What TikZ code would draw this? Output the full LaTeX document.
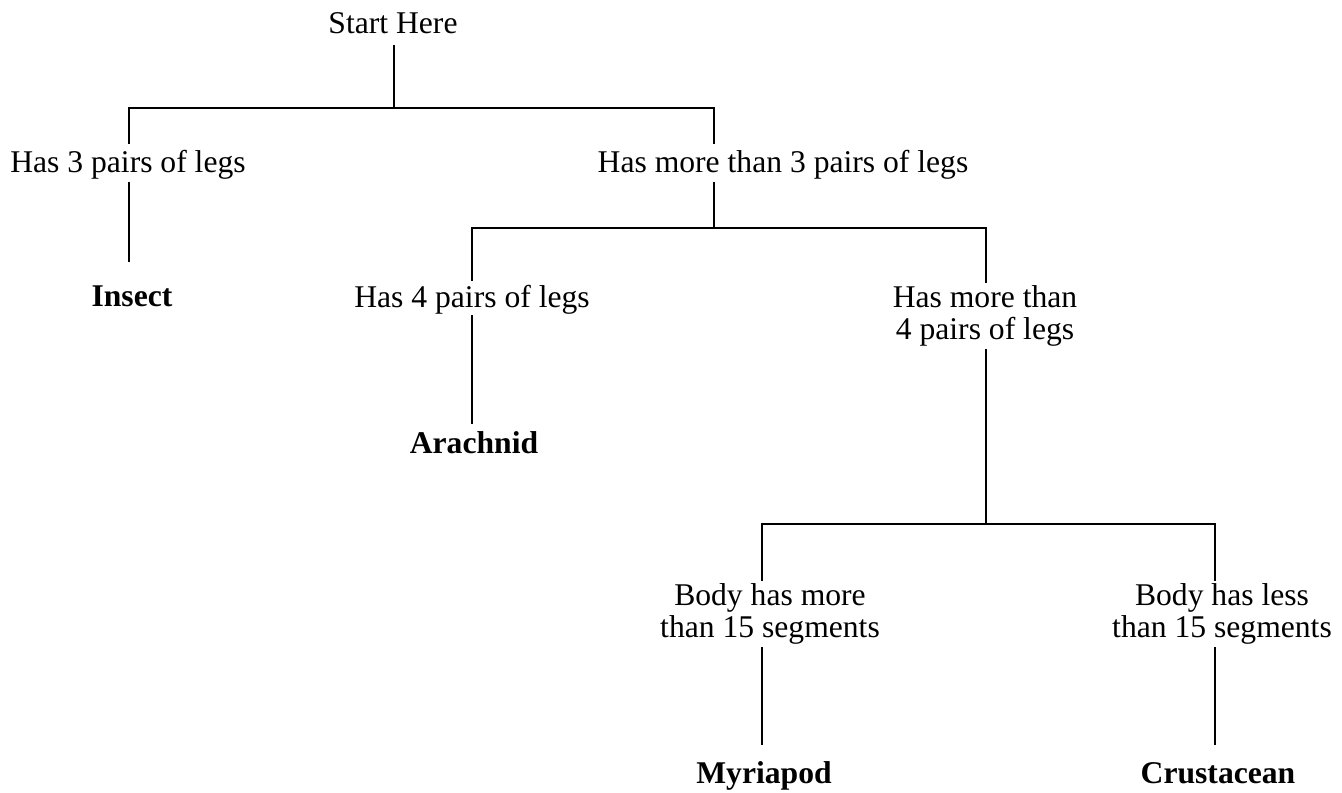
\documentclass[tikz,border=0pt]{standalone}
\usepackage{fontspec}
\setmainfont{Liberation Serif}
\usepackage{tikz}
\usetikzlibrary{positioning, calc}

\begin{document}
\begin{tikzpicture}[
    x=0.02cm, y=-0.02cm,
    label/.style={font=\fontsize{18}{18.2}\selectfont, text height=13.5pt, text depth=2.5pt, inner xsep=2pt, inner ysep=2.5pt},
    twoline/.style={font=\fontsize{18}{18.2}\selectfont, align=center, inner xsep=2pt, inner ysep=1.5pt},
    leaf/.style={font=\fontsize{18}{18.2}\selectfont\bfseries, text height=13.5pt, text depth=2.5pt, inner xsep=2pt},
    branch/.style={line width=1.25pt, black}
]
    \useasboundingbox (0,0) rectangle (1342,792);

    % Questions
    \node[label, inner ysep=4pt] (start) at (393,24) {Start Here};
    \node[label] (legs3) at (128,163) {Has 3 pairs of legs};
    \node[label] (legsmore3) at (783,163) {Has more than 3 pairs of legs};
    \node[label, inner ysep=1.5pt] (legs4) at (472,298) {Has 4 pairs of legs};
    \node[twoline] (legsmore4) at (985,316) {Has more than\\4 pairs of legs};
    \node[twoline] (segmore) at (770,614) {Body has more\\than 15 segments};
    \node[twoline] (segless) at (1222,614) {Body has less\\than 15 segments};

    % Answers
    \node[leaf, inner ysep=11.9pt] (insect) at (132,297) {Insect};
    \node[leaf, inner ysep=3.4pt] (arachnid) at (474,444) {Arachnid};
    \node[leaf, inner ysep=8.5pt] (myriapod) at (764,774) {Myriapod};
    \node[leaf, inner ysep=8.5pt] (crustacean) at (1218,774) {Crustacean};

    % Forks
    \coordinate (fork1) at (394,108);
    \coordinate (left1) at (129,108);
    \coordinate (right1) at (714,108);
    \coordinate (left2) at (472,228);
    \coordinate (right2) at (986,228);
    \coordinate (left3) at (762,524);
    \coordinate (right3) at (1215,524);

    % Branches
    \draw[branch] (start.south -| fork1) -- (fork1);
    \draw[branch] (legs3.north -| left1) -- (left1) -- (right1) -- (legsmore3.north -| right1);
    \draw[branch] (legs3.south -| left1) -- (insect.north -| left1);
    \draw[branch] (legsmore3.south -| right1) -- (right1 |- left2);

    \draw[branch] (legs4.north -| left2) -- (left2) -- (right2) -- (legsmore4.north -| right2);
    \draw[branch] (legs4.south -| left2) -- (arachnid.north -| left2);
    \draw[branch] (legsmore4.south -| right2) -- (right2 |- left3);

    \draw[branch] (segmore.north -| left3) -- (left3) -- (right3) -- (segless.north -| right3);
    \draw[branch] (segmore.south -| left3) -- (myriapod.north -| left3);
    \draw[branch] (segless.south -| right3) -- (crustacean.north -| right3);
\end{tikzpicture}
\end{document}
